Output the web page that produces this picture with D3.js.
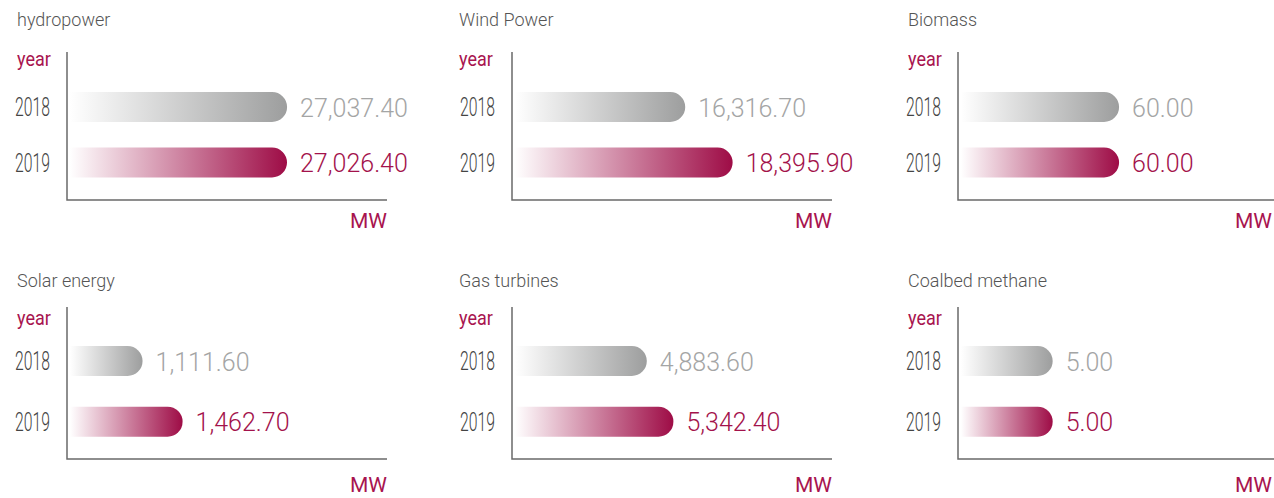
<!DOCTYPE html>
<html lang="en">
<head>
    <title>Installed capacity by source</title>
    <meta charset="utf-8"/>
    <script src="https://d3js.org/d3.v7.min.js"></script>
    <style>
        body { margin: 0; background: #fff; }
        .title { font-family: Roboto, sans-serif; font-weight: 300; font-size: 18px; fill: #555; }
        .unit { font-family: Roboto, sans-serif; font-size: 20px; fill: #a8144f; }
        .mw { font-family: Roboto, sans-serif; font-size: 21px; fill: #a8144f; }
        .yearLabel { font-family: Roboto, sans-serif; font-weight: 300; font-size: 25px; fill: #444; }
        .value { font-family: Roboto, sans-serif; font-weight: 300; font-size: 25px; }
    </style>
</head>
<body>
<div id="viz">
    <svg width="1274" height="498"></svg>
</div>

<script type="text/javascript">

    // data
    const categories = ["hydropower", "Wind Power", "Biomass", "Solar energy", "Gas turbines", "Coalbed methane"];
    const years = ["2018", "2019"];
    const values2018 = [27037.40, 16316.70, 60.00, 1111.60, 4883.60, 5.00];
    const values2019 = [27026.40, 18395.90, 60.00, 1462.70, 5342.40, 5.00];
    // each small chart has its own x domain (MW)
    const domainLow = [0, 8850, 0, 475, 2610, 0];
    const domainHigh = [27400, 18500, 83.5, 2405, 6405, 12];
    const unitLabel = "MW", yearTitle = "year";

    // colours
    const grey = "#a4a5a5", crimson = "#a3124b", axisColor = "#6a6a6a";

    // layout of the 3x2 grid
    const colAxisX = [67, 512, 958];
    const colTitleX = [17, 459, 908];
    const rows = [
        {title: 26, year: 66, top: 52, bottom: 200, mw: 228, y0: 107, y1: 162.5},
        {title: 287, year: 325, top: 307, bottom: 459, mw: 492, y0: 361, y1: 421.7}
    ];
    const axisLen = 320, barH = 30, barMax = 220, width = 1274;

    const fmt = d3.format(",.2f");
    const svg = d3.select("svg");

    // gradients: white on the left to full colour on the right
    const defs = svg.append("defs");
    [["gradGrey", "#ffffff", "#9d9e9e"], ["gradRed", "#ffffff", "#9e0c46"]].forEach(g => {
        let lg = defs.append("linearGradient").attr("id", g[0])
            .attr("x1", "0%").attr("x2", "100%").attr("y1", "0%").attr("y2", "0%");
        lg.append("stop").attr("offset", "0%").attr("stop-color", g[1]);
        lg.append("stop").attr("offset", "100%").attr("stop-color", g[2]);
    });

    // bar with flat left side and rounded right end
    function barPath(x0, len, cy) {
        const r = barH / 2, x1 = x0 + len;
        return "M" + x0 + "," + (cy - r) + "H" + (x1 - r) +
            "A" + r + "," + r + " 0 0 1 " + (x1 - r) + "," + (cy + r) +
            "H" + x0 + "Z";
    }

    categories.forEach((cat, i) => {
        const row = rows[Math.floor(i / 3)];
        const ax = colAxisX[i % 3];
        const g = svg.append("g").attr("class", "panel");

        let xScale = d3.scaleLinear().domain([domainLow[i], domainHigh[i]]).range([0, barMax]);
        let yScale = d3.scalePoint().domain(years).range([row.y0, row.y1]);

        const data = [
            {year: years[0], value: values2018[i], grad: "url(#gradGrey)", color: grey},
            {year: years[1], value: values2019[i], grad: "url(#gradRed)", color: crimson}
        ];

        // titles
        g.append("text").attr("class", "title")
            .attr("x", colTitleX[i % 3]).attr("y", row.title).text(cat);
        // condensed look: squeeze the text horizontally
        g.append("text").attr("class", "unit")
            .attr("transform", "translate(" + colTitleX[i % 3] + "," + row.year + ") scale(0.9,1)")
            .text(yearTitle);

        // axes lines
        g.append("path")
            .attr("d", "M" + ax + "," + row.top + "V" + row.bottom + "H" + (ax + axisLen))
            .attr("fill", "none").attr("stroke", axisColor).attr("stroke-width", 1.5);

        g.append("text").attr("class", "mw")
            .attr("x", Math.min(ax + axisLen, width - 2)).attr("y", row.mw)
            .attr("text-anchor", "end").text(unitLabel);

        // year labels
        g.selectAll(".yearLabel").data(data).enter()
            .append("text").attr("class", "yearLabel")
            .attr("transform", d => "translate(" + (ax - 17) + "," + (yScale(d.year) + 9) + ") scale(0.63,1)")
            .attr("text-anchor", "end")
            .text(d => d.year);

        // bars
        g.selectAll(".bar").data(data).enter()
            .append("path").attr("class", "bar")
            .attr("d", d => barPath(ax + 3, xScale(d.value), yScale(d.year)))
            .attr("fill", d => d.grad);

        // value labels
        g.selectAll(".value").data(data).enter()
            .append("text").attr("class", "value")
            .attr("x", d => ax + 3 + xScale(d.value) + 13)
            .attr("y", d => yScale(d.year) + 9.5)
            .attr("fill", d => d.color)
            .text(d => fmt(d.value));
    });

</script>
</body>
</html>
